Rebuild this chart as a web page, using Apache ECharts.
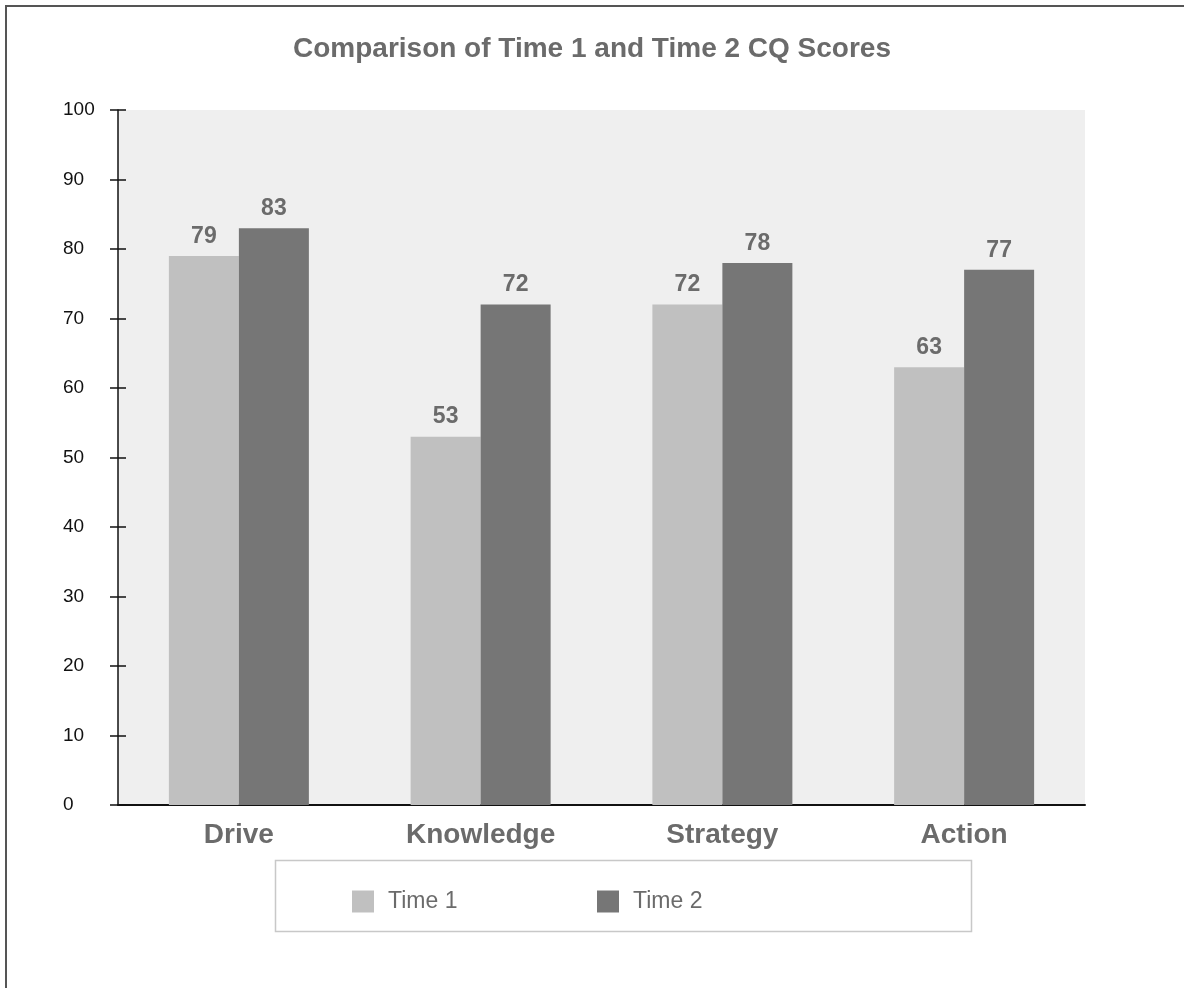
<!DOCTYPE html>
<html>
<head>
<meta charset="utf-8">
<script src="https://cdn.jsdelivr.net/npm/echarts@6/dist/echarts.min.js"></script>
<style>
    html, body { margin: 0; padding: 0; background: #fff; }
    #chart { width: 1184px; height: 988px; }
</style>
</head>
<body>
<div id="chart"></div>
<script>
const categories = ['Drive', 'Knowledge', 'Strategy', 'Action'];
const time1Values = [79, 53, 72, 63];
const time2Values = [83, 72, 78, 77];
const seriesNames = ['Time 1', 'Time 2'];

const colorTime1 = '#c0c0c0';
const colorTime2 = '#767676';
const textGray = '#6b6b6b';
const font = 'Liberation Sans, Arial, sans-serif';

const chart = echarts.init(document.getElementById('chart'), null, { renderer: 'canvas' });

const labelStyle = {
    show: true,
    position: 'top',
    distance: 8,
    color: textGray,
    fontFamily: font,
    fontWeight: 'bold',
    fontSize: 23
};

// легенда: по одному элементу, чтобы точно поставить каждый
function legendItem(name, left) {
    return {
        data: [name],
        left: left,
        top: 885,
        itemWidth: 22,
        itemHeight: 22,
        icon: 'rect',
        textStyle: {
            color: textGray,
            fontFamily: font,
            fontSize: 23,
            padding: [0, 0, 0, 9]
        }
    };
}

const option = {
    backgroundColor: '#fff',
    animation: false,
    title: {
        text: 'Comparison of Time 1 and Time 2 CQ Scores',
        left: 'center',
        top: 30,
        textStyle: {
            color: textGray,
            fontFamily: font,
            fontWeight: 'bold',
            fontSize: 28
        }
    },
    // рамка вокруг всей картинки (правый и нижний край обрезаны)
    graphic: [
        {
            type: 'rect',
            shape: { x: 6, y: 6, width: 2000, height: 2000 },
            style: { fill: 'none', stroke: '#555', lineWidth: 2 }
        },
        {
            type: 'rect',
            shape: { x: 275.5, y: 860.5, width: 696, height: 71 },
            style: { fill: '#fff', stroke: '#c8c8c8', lineWidth: 1.5 },
            z: -1
        }
    ],
    legend: [
        legendItem(seriesNames[0], 347),
        legendItem(seriesNames[1], 592)
    ],
    grid: {
        left: 118,
        right: 99,
        top: 110,
        bottom: 183,
        show: true,
        backgroundColor: '#efefef',
        borderWidth: 0
    },
    xAxis: {
        type: 'category',
        data: categories,
        axisLine: { lineStyle: { color: '#111', width: 2 } },
        axisTick: { show: false },
        axisLabel: {
            margin: 16,
            color: textGray,
            fontFamily: font,
            fontWeight: 'bold',
            fontSize: 28
        }
    },
    yAxis: [
        {
            type: 'value',
            min: 0,
            max: 100,
            interval: 10,
            axisLine: { show: true, lineStyle: { color: '#111', width: 1.5 } },
            axisTick: { show: true, length: 8, lineStyle: { color: '#111', width: 1.5 } },
            axisLabel: {
                align: 'left',
                margin: 55,
                color: '#111',
                fontFamily: font,
                fontSize: 19
            },
            splitLine: { show: false }
        },
        {
            // второй набор засечек внутрь, чтобы они пересекали ось
            type: 'value',
            position: 'left',
            min: 0,
            max: 100,
            interval: 10,
            axisLine: { show: false },
            axisTick: { show: true, inside: true, length: 8, lineStyle: { color: '#111', width: 1.5 } },
            axisLabel: { show: false },
            splitLine: { show: false }
        }
    ],
    series: [
        {
            name: seriesNames[0],
            type: 'bar',
            data: time1Values,
            barWidth: 70,
            barGap: '0%',
            itemStyle: { color: colorTime1 },
            label: labelStyle
        },
        {
            name: seriesNames[1],
            type: 'bar',
            data: time2Values,
            barWidth: 70,
            barGap: '0%',
            itemStyle: { color: colorTime2 },
            label: labelStyle
        }
    ]
};

chart.setOption(option);
</script>
</body>
</html>
